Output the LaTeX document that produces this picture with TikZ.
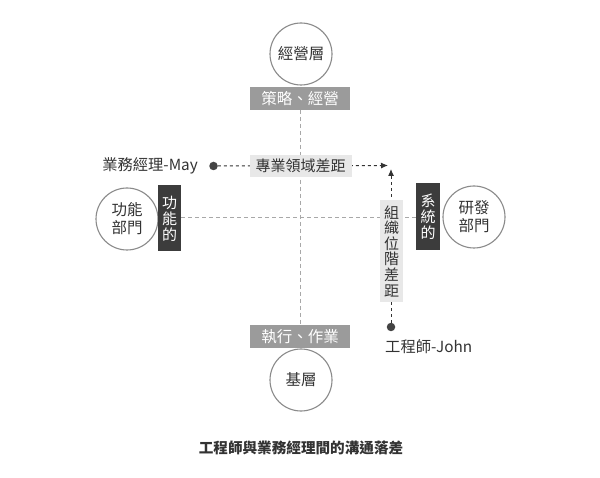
\documentclass[tikz,border=0pt]{standalone}
\usepackage{fontspec}
\setmainfont{Noto Sans CJK TC}
\usetikzlibrary{arrows.meta}
\definecolor{circline}{HTML}{8A8A8A}
\definecolor{guide}{HTML}{A8A8A8}
\definecolor{txt}{HTML}{333333}
\definecolor{midgrey}{HTML}{9B9B9B}
\definecolor{darkbox}{HTML}{3C3C3C}
\definecolor{lightbox}{HTML}{E8E8E8}
\definecolor{dotc}{HTML}{444444}
\tikzset{
  circ/.style={circle,draw=circline,line width=1.1pt,fill=white,minimum size=62pt,inner sep=0pt,
    text=txt,font=\fontsize{15.5}{18}\selectfont,align=center},
  greybox/.style={rectangle,fill=midgrey,minimum width=100pt,minimum height=23pt,inner sep=0pt,
    text=white,font=\fontsize{15.5}{17}\selectfont},
  darkvbox/.style={rectangle,fill=darkbox,minimum width=23pt,minimum height=66pt,inner sep=0pt,
    text=white,font=\fontsize{15}{16}\selectfont,align=center},
  lightbox/.style={rectangle,fill=lightbox,inner sep=0pt,text=txt,font=\fontsize{15}{15.6}\selectfont,align=center},
  guideline/.style={draw=guide,line width=0.7pt,dash pattern=on 4pt off 3pt},
  gapline/.style={draw=txt,line width=1pt,dash pattern=on 3pt off 3pt,-{Latex[length=7pt,width=6pt]}},
  dotnode/.style={circle,fill=dotc,minimum size=8.5pt,inner sep=0pt},
  person/.style={text=txt,font=\fontsize{15.3}{17}\selectfont,inner sep=0pt},
}
\begin{document}
\begin{tikzpicture}[x=1pt,y=-1pt]
\useasboundingbox[fill=white] (0,0) rectangle (600,478);
% guide lines
\coordinate (vtop) at (300,110);
\coordinate (vbot) at (300,325);
\coordinate (hl) at (181,217);
\coordinate (hr) at (416,217);
\draw[guideline] (vtop) -- (vbot);
\draw[guideline] (hl) -- (hr);
% top and bottom
\node[circ] (top) at (301,54) {經營層};
\node[greybox] (tb) at (300,98.5) {策略、經營};
\node[greybox] (bb) at (300,336.5) {執行、作業};
\node[circ] (bot) at (301,380) {基層};
% left and right
\node[circ] (left) at (127,219) {功能\\部門};
\node[darkvbox] (ld) at (169.5,218.5) {功\\能\\的};
\node[circ] (right) at (474,217) {研發\\部門};
\node[darkvbox,minimum width=24pt,minimum height=67pt] (rd) at (428,216.5) {系\\統\\的};
% people
\node[dotnode] (may) at (213.5,166) {};
\node[person,anchor=east] (mayl) at (198,166) {業務經理-May};
\node[dotnode] (john) at (391,327) {};
\node[person,anchor=north west] (johnl) at (385,339) {工程師-John};
\coordinate (ha) at (388,165.5);
\coordinate (va) at (391,169);
\draw[gapline] (may) -- (ha);
\draw[gapline] (john) -- (va);
\node[lightbox,minimum width=102pt,minimum height=22pt] (hgap) at (300.5,166) {專業領域差距};
\node[lightbox,minimum width=23pt,minimum height=102pt] (vgap) at (391.5,251) {組\\織\\位\\階\\差\\距};
% title
\node[text=txt,font=\fontsize{14.6}{17}\selectfont\bfseries] (title) at (301,448) {工程師與業務經理間的溝通落差};
\end{tikzpicture}
\end{document}
